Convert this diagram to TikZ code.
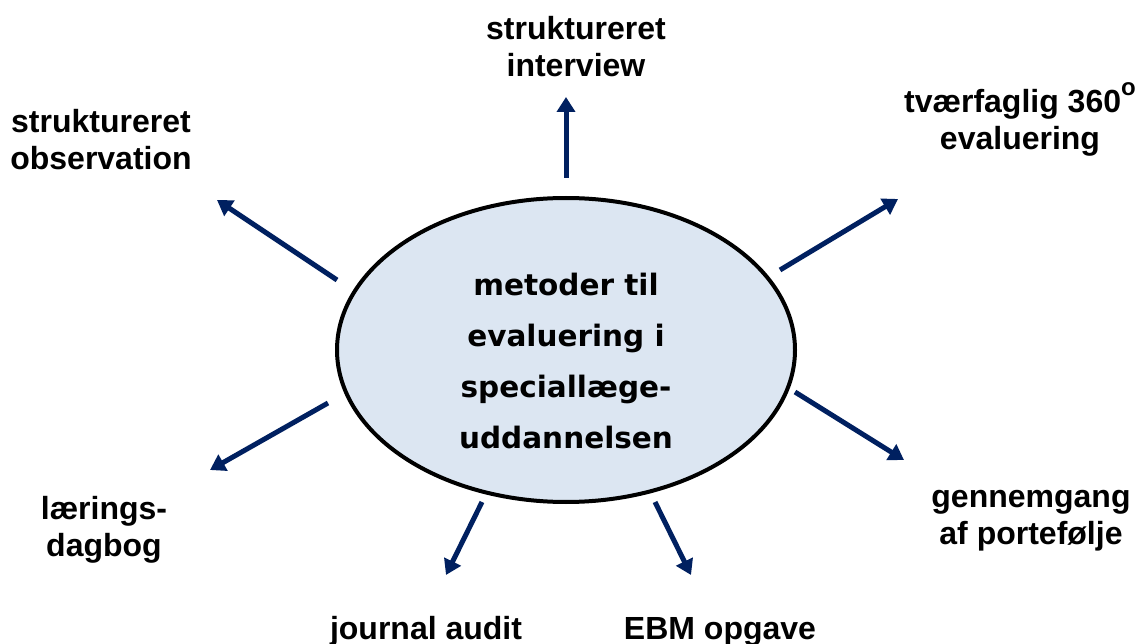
\documentclass[tikz,border=0pt]{standalone}
\usepackage{fontspec}
\setmainfont{Liberation Sans}
\newfontfamily\centerfont{DejaVu Sans}
\usetikzlibrary{arrows.meta,shapes.geometric}
\definecolor{navy}{HTML}{002060}
\definecolor{ellfill}{HTML}{DCE6F2}
\tikzset{
  lbl/.style={align=center, inner sep=0pt, anchor=base, font=\bfseries\fontsize{32}{37}\selectfont},
  arr/.style={draw=navy, line width=5pt, -{Triangle[width=18pt,length=15pt]}},
  hub/.style={ellipse, draw=black, line width=4pt, fill=ellfill, minimum width=458pt, minimum height=304pt, inner sep=0pt},
  hubtxt/.style={align=center, inner sep=0pt, anchor=base, font=\centerfont\bfseries\fontsize{29.5}{51}\selectfont}
}
\begin{document}
\begin{tikzpicture}[x=1pt,y=-1pt]
\useasboundingbox (0,0) rectangle (1141,644);
\node[hub] (hub) at (566,350) {};
\node[hubtxt] (hubtext) at (566,448)
  {metoder til\\evaluering i\\speciallæge-\\uddannelsen};
% labels (anchor = baseline of last line)
\node[lbl] (interview) at (576,77) {struktureret\\interview};
\node[lbl] (tvaer) at (1020,150) {tværfaglig 360\raisebox{0.55em}{\fontsize{24}{24}\selectfont o}\\evaluering};
\node[lbl] (observ) at (101,170) {struktureret\\observation};
\node[lbl] (dagbog) at (104,556) {lærings-\\dagbog};
\node[lbl] (portef) at (1031,544) {gennemgang\\af portefølje};
\node[lbl] (journal) at (426,639) {journal audit};
\node[lbl] (ebm) at (720,639) {EBM opgave};
% arrow ends
\coordinate (t1) at (566,178); \coordinate (h1) at (566,97);
\coordinate (t2) at (780,270); \coordinate (h2) at (898,199);
\coordinate (t3) at (795,392); \coordinate (h3) at (904,460);
\coordinate (t4) at (655,502); \coordinate (h4) at (691,575);
\coordinate (t5) at (482,502); \coordinate (h5) at (446,575);
\coordinate (t6) at (328,403); \coordinate (h6) at (210,470);
\coordinate (t7) at (337,280); \coordinate (h7) at (217,200);
\draw[arr] (t1) -- (h1);
\draw[arr] (t2) -- (h2);
\draw[arr] (t3) -- (h3);
\draw[arr] (t4) -- (h4);
\draw[arr] (t5) -- (h5);
\draw[arr] (t6) -- (h6);
\draw[arr] (t7) -- (h7);
\end{tikzpicture}
\end{document}
